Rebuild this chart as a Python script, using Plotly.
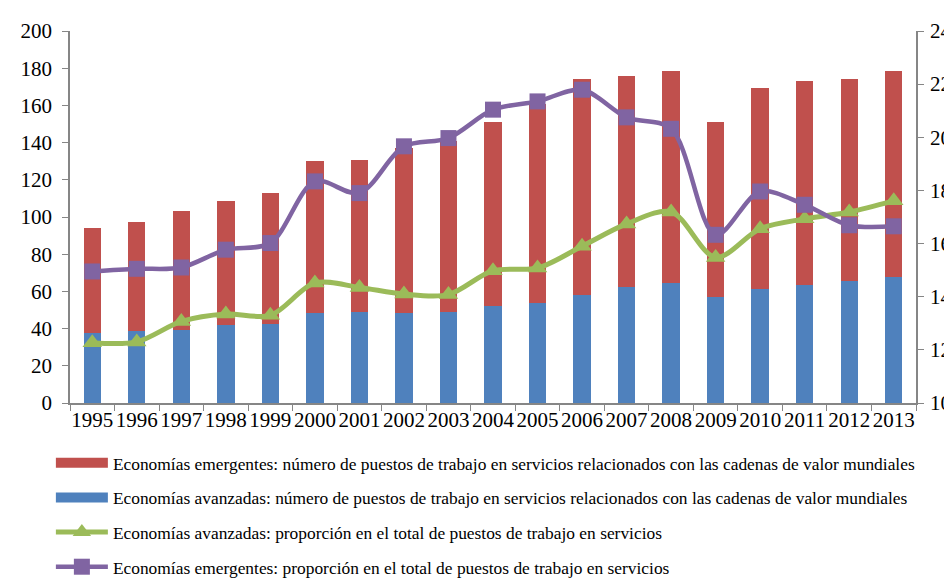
import plotly.graph_objects as go

years = [str(y) for y in range(1995, 2014)]

# totals, advanced (blue) part and emerging (red) part
totals = [94, 97.5, 103.4, 108.8, 112.9, 130, 130.5, 137, 141, 151,
          161, 174.2, 176, 178.3, 150.9, 169.4, 173.3, 174.4, 178.7]
avanzadas_puestos = [37.6, 38.5, 39.3, 42.2, 42.3, 48.6, 48.9, 48.5, 48.9, 52.3,
                     54.0, 58.2, 62.2, 64.3, 56.8, 61.3, 63.6, 65.4, 67.5]
emergentes_puestos = [round(t - a, 1) for t, a in zip(totals, avanzadas_puestos)]

# right axis (%)
avanzadas_prop = [12.27, 12.3, 13.07, 13.35, 13.3, 14.52, 14.35, 14.1, 14.08, 14.98,
                  15.08, 15.9, 16.74, 17.19, 15.48, 16.56, 16.93, 17.19, 17.61]
emergentes_prop = [14.95, 15.05, 15.1, 15.77, 16.02, 18.34, 17.9, 19.66, 19.97, 21.04,
                   21.35, 21.79, 20.75, 20.32, 16.33, 17.96, 17.46, 16.69, 16.65]

RED = '#C0504D'
BLUE = '#4F81BD'
GREEN = '#9BBB59'
PURPLE = '#8064A2'
AXIS = '#868686'
FONT = 'Liberation Serif, Times New Roman, serif'

name_emer = 'Economías emergentes: número de puestos de trabajo en servicios relacionados con las cadenas de valor mundiales'
name_avan = 'Economías avanzadas: número de puestos de trabajo en servicios relacionados con las cadenas de valor mundiales'

fig = go.Figure()
fig.add_trace(go.Bar(x=years, y=avanzadas_puestos, name=name_avan,
                     marker_color=BLUE, marker_line_width=0, showlegend=False))
fig.add_trace(go.Bar(x=years, y=emergentes_puestos, name=name_emer,
                     marker_color=RED, marker_line_width=0, showlegend=False))
fig.add_trace(go.Scatter(
    x=years, y=avanzadas_prop, yaxis='y2', mode='lines+markers',
    name='Economías avanzadas: proporción en el total de puestos de trabajo en servicios',
    line=dict(color=GREEN, width=5, shape='spline', smoothing=0.9),
    marker=dict(symbol='triangle-up', size=17, color=GREEN),
    legendrank=3, legendgroup='c'
))
fig.add_trace(go.Scatter(
    x=years, y=emergentes_prop, yaxis='y2', mode='lines+markers',
    name='Economías emergentes: proporción en el total de puestos de trabajo en servicios',
    line=dict(color=PURPLE, width=4.5, shape='spline', smoothing=0.9),
    marker=dict(symbol='square', size=16, color=PURPLE),
    legendrank=4, legendgroup='d'
))
# wide rectangle legend keys for the bar series (no visible data)
fig.add_trace(go.Scatter(x=years[:1], y=[None], mode='lines', name=name_emer,
                         line=dict(color=RED, width=10), legendrank=1, legendgroup='a'))
fig.add_trace(go.Scatter(x=years[:1], y=[None], mode='lines', name=name_avan,
                         line=dict(color=BLUE, width=10), legendrank=2, legendgroup='b'))

fig.update_layout(
    width=952, height=579,
    barmode='stack', bargap=0.61,
    paper_bgcolor='white', plot_bgcolor='white',
    margin=dict(l=62, r=44, t=23, b=184, autoexpand=False),
    font=dict(family=FONT, size=21, color='black'),
    xaxis=dict(type='category', categoryorder='array', categoryarray=years,
               range=[-0.5, len(years) - 0.5],
               showline=True, linecolor=AXIS, linewidth=1.5,
               ticks='outside', tickson='boundaries', ticklen=6, tickcolor=AXIS,
               showgrid=False, tickfont=dict(size=21), tickangle=0,
               ticklabelstandoff=-3),
    yaxis=dict(range=[0, 200], dtick=20, showline=True, linecolor=AXIS, linewidth=1.5,
               ticks='outside', ticklen=6, tickcolor=AXIS, showgrid=False, zeroline=False,
               ticklabelstandoff=6),
    yaxis2=dict(range=[10, 24], dtick=2, overlaying='y', side='right', showline=True,
                linecolor=AXIS, linewidth=1.5, ticks='outside', ticklen=6, tickcolor=AXIS,
                showgrid=False, zeroline=False, ticklabelstandoff=2),
    legend=dict(orientation='v', traceorder='grouped', tracegroupgap=9,
                x=-0.0226, y=-0.113, xanchor='left', yanchor='top', itemwidth=52,
                font=dict(family=FONT, size=17.4), bgcolor='rgba(0,0,0,0)'),
)

fig.write_html("out.html")
